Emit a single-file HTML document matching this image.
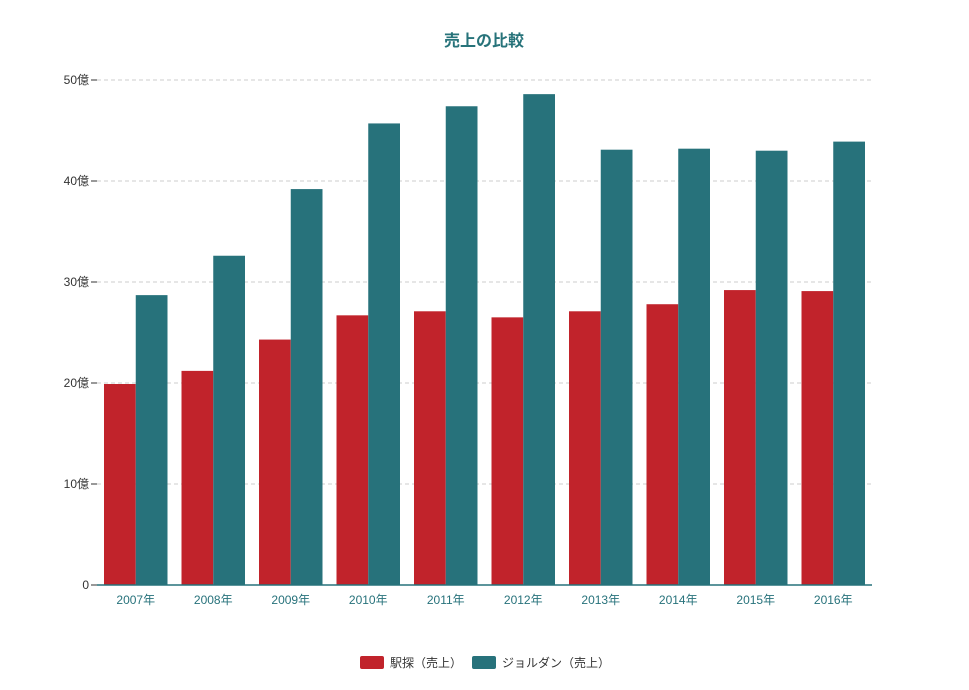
<!DOCTYPE html>
<html><head><meta charset="utf-8"><style>
body{margin:0;background:#fff;font-family:"Liberation Sans","Noto Sans CJK JP",sans-serif}
</style></head><body>
<svg id="chart" width="969" height="685" xmlns="http://www.w3.org/2000/svg">
<text x="484" y="46" text-anchor="middle" font-size="16" font-weight="bold" fill="#27737a" font-family="Liberation Sans, Noto Sans CJK JP, sans-serif">売上の比較</text>
<g id="grid"></g><g id="bars"></g><g id="axes"></g>
<g>
<g><rect x="360" y="656" width="24" height="13" rx="2" fill="#c1232b"/><text x="390" y="667" font-size="12" fill="#333">駅探（売上）</text></g>
<g><rect x="472" y="656" width="24" height="13" rx="2" fill="#27727b"/><text x="502" y="667" font-size="12" fill="#333">ジョルダン（売上）</text></g>
</g>
</svg>
<script>
const categories=["2007年","2008年","2009年","2010年","2011年","2012年","2013年","2014年","2015年","2016年"];
const ekitan=[19.9,21.2,24.3,26.7,27.1,26.5,27.1,27.8,29.2,29.1];
const jordan=[28.7,32.6,39.2,45.7,47.4,48.6,43.1,43.2,43.0,43.9];
const yTicks=[0,10,20,30,40,50];
const yTickLabels=["0","10億","20億","30億","40億","50億"];
const NS="http://www.w3.org/2000/svg";
const x0=97,x1=872,y0=585,y1=80,yMax=50;
const y=v=>y0-(v/yMax)*(y0-y1);
const band=(x1-x0)/categories.length;
function el(t,a,p){const e=document.createElementNS(NS,t);for(const k in a)e.setAttribute(k,a[k]);p.appendChild(e);return e;}
const grid=document.getElementById('grid'),bars=document.getElementById('bars'),axes=document.getElementById('axes');
yTicks.forEach((t,i)=>{
 if(t>0){const g=el('line',{x1:x0,x2:x1,y1:y(t),y2:y(t),stroke:'#ccc','stroke-dasharray':'4,3'},grid);
 
 }
 const tk=el('line',{x1:x0-6,x2:x0,y1:y(t),y2:y(t),stroke:'#333'},axes);
 
 
 const tx=el('text',{x:x0-8,y:y(t)+4,'text-anchor':'end','font-size':'12',fill:'#333'},axes);
 tx.textContent=yTickLabels[i];
 
 
});
const pad=7,bw=(band-2*pad)/2;
categories.forEach((c,i)=>{
 const bx=x0+i*band+pad;
 const r=el('rect',{x:bx,y:y(ekitan[i]),width:bw,height:y0-y(ekitan[i]),fill:'#c1232b'},bars);
 
 
 const t=el('rect',{x:bx+bw,y:y(jordan[i]),width:bw,height:y0-y(jordan[i]),fill:'#27727b'},bars);
 
 
 const lb=el('text',{x:x0+(i+0.5)*band,y:604,'text-anchor':'middle','font-size':'12',fill:'#27727b'},axes);
 lb.textContent=c;
 
 
});
const ax=el('line',{x1:x0,x2:x1,y1:y0,y2:y0,stroke:'#27727b','stroke-width':1.5},axes);


</script>
</body></html>
